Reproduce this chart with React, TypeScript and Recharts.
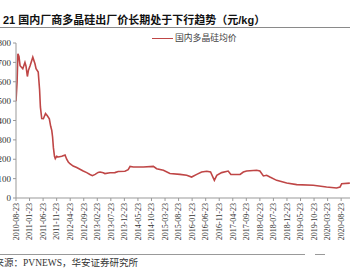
import { CartesianGrid, Line, LineChart, XAxis, YAxis } from "recharts";

// months after 2010-08-23
const months = [
  0, 0.4, 0.7, 1.1, 1.5, 2.5, 3.3, 3.7, 4.2, 4.6, 5.2, 6.2, 7.0, 7.4, 8.2, 8.7, 9.0, 9.5, 10.1, 10.9,
  11.5, 12.3, 12.8, 13.2, 13.5, 13.8, 14.2, 14.5, 15.0, 15.6, 16.9, 18.1, 18.7, 19.3, 19.9, 21.1, 22.4,
  23.6, 24.8, 26.1, 27.3, 28.2, 29.2, 30.3, 31.0, 32.2, 32.8, 34.7, 36.5, 37.7, 40.2, 41.4, 42.1, 43.3,
  47.0, 50.7, 51.9, 54.4, 56.8, 60.5, 63.0, 64.8, 66.7, 68.5, 70.4, 71.8, 73.2, 74.1, 75.9, 78.3, 79.3,
  81.4, 82.7, 83.9, 85.1, 88.8, 90.0, 91.3, 92.5, 93.7, 96.2, 99.9, 103.6, 109.7, 114.6, 118.3, 119.6,
  120.2, 123.2,
];

// 元/kg
const prices = [
  500, 600, 744, 730, 683, 667, 700, 680, 627, 660, 683, 727, 693, 667, 650, 560, 470, 410, 409, 436,
  426, 409, 370, 349, 315, 260, 215, 203, 215, 212, 215, 222, 200, 186, 177, 165, 157,
  148, 139, 131, 121, 115, 122, 132, 134, 130, 126, 130, 131, 137, 138, 146, 163, 160,
  160, 163, 151, 143, 126, 122, 117, 108, 122, 134, 138, 134, 91, 117, 131, 139, 121,
  121, 122, 134, 139, 143, 139, 114, 117, 108, 91, 77, 69, 66, 57, 52, 57,
  74, 77,
];

const tickLabels = [
  "2010-08-23", "2011-01-23", "2011-06-23", "2011-11-23", "2012-04-23", "2012-09-23", "2013-02-23",
  "2013-07-23", "2013-12-23", "2014-05-23", "2014-10-23", "2015-03-23", "2015-08-23", "2016-01-23",
  "2016-06-23", "2016-11-23", "2017-04-23", "2017-09-23", "2018-02-23", "2018-07-23", "2018-12-23",
  "2019-05-23", "2019-10-23", "2020-03-23", "2020-08-23",
];

const yTicks = [0, 100, 200, 300, 400, 500, 600, 700, 800];

const seriesName = "国内多晶硅均价";
const lineColor = "#bf4646";
const serif = "'Liberation Serif', 'Times New Roman', serif";
const cjk = "'Liberation Sans', 'Noto Sans CJK SC', sans-serif";

const data = months.map((m, i) => ({ m, price: prices[i] }));
const xTicks = tickLabels.map((_, i) => i * 5);

type TickProps = { x?: number; y?: number; payload?: { value: number } };

const DateTick = ({ x = 0, y = 0, payload }: TickProps) => {
  const label = tickLabels[Math.round((payload?.value ?? 0) / 5)] ?? "";
  return (
    <text
      x={x}
      y={y}
      dy="0.35em"
      transform={`rotate(-90, ${x}, ${y})`}
      textAnchor="end"
      fontSize={8}
      fontFamily={serif}
      fill="#333"
    >
      {label}
    </text>
  );
};

export default function App() {
  return (
    <div
      style={{
        position: "fixed",
        left: 0,
        top: 0,
        width: 350,
        height: 275,
        overflow: "hidden",
        background: "#fff",
      }}
    >
      <div
        style={{
          position: "absolute",
          left: 3,
          top: 13,
          fontFamily: cjk,
          fontWeight: 700,
          fontSize: 11,
          lineHeight: "14px",
          color: "#111",
          whiteSpace: "nowrap",
        }}
      >
        21 国内厂商多晶硅出厂价长期处于下行趋势（元/kg）
      </div>
      <div style={{ position: "absolute", left: 0, top: 27, width: 350, height: 1, background: "#8a8a8a" }} />

      <div style={{ position: "absolute", left: 0, top: 0 }}>
        <LineChart width={352} height={243} data={data} margin={{ top: 43, right: 0, bottom: 0, left: 0 }}>
          <CartesianGrid stroke="none" />
          <XAxis
            dataKey="m"
            type="number"
            domain={[0, 124]}
            ticks={xTicks}
            interval={0}
            allowDataOverflow
            height={45}
            tickSize={3}
            tickMargin={2}
            stroke="#999"
            tick={<DateTick />}
          />
          <YAxis
            domain={[0, 800]}
            ticks={yTicks}
            width={16}
            tickSize={3}
            tickMargin={2}
            stroke="#999"
            tick={{ fontSize: 9, fontFamily: serif, fill: "#333" }}
          />
          <Line
            dataKey="price"
            name={seriesName}
            type="linear"
            stroke={lineColor}
            strokeWidth={1.6}
            dot={false}
            isAnimationActive={false}
          />
        </LineChart>
      </div>

      <div style={{ position: "absolute", left: 152, top: 37.5, width: 21, height: 1.6, background: lineColor }} />
      <div
        style={{
          position: "absolute",
          left: 175,
          top: 32,
          fontFamily: cjk,
          fontSize: 8.8,
          lineHeight: "12px",
          color: "#444",
          whiteSpace: "nowrap",
        }}
      >
        {seriesName}
      </div>

      <div style={{ position: "absolute", left: 0, top: 254, width: 305, height: 1, background: "#999" }} />
      <div style={{ position: "absolute", left: 315, top: 254, width: 10, height: 1, background: "#999" }} />
      <div
        style={{
          position: "absolute",
          left: -5.5,
          top: 257,
          fontFamily: "'Liberation Serif', 'Noto Sans CJK SC', serif",
          fontSize: 9.5,
          lineHeight: "12px",
          color: "#333",
          whiteSpace: "nowrap",
        }}
      >
        来源：PVNEWS，华安证券研究所
      </div>
    </div>
  );
}
